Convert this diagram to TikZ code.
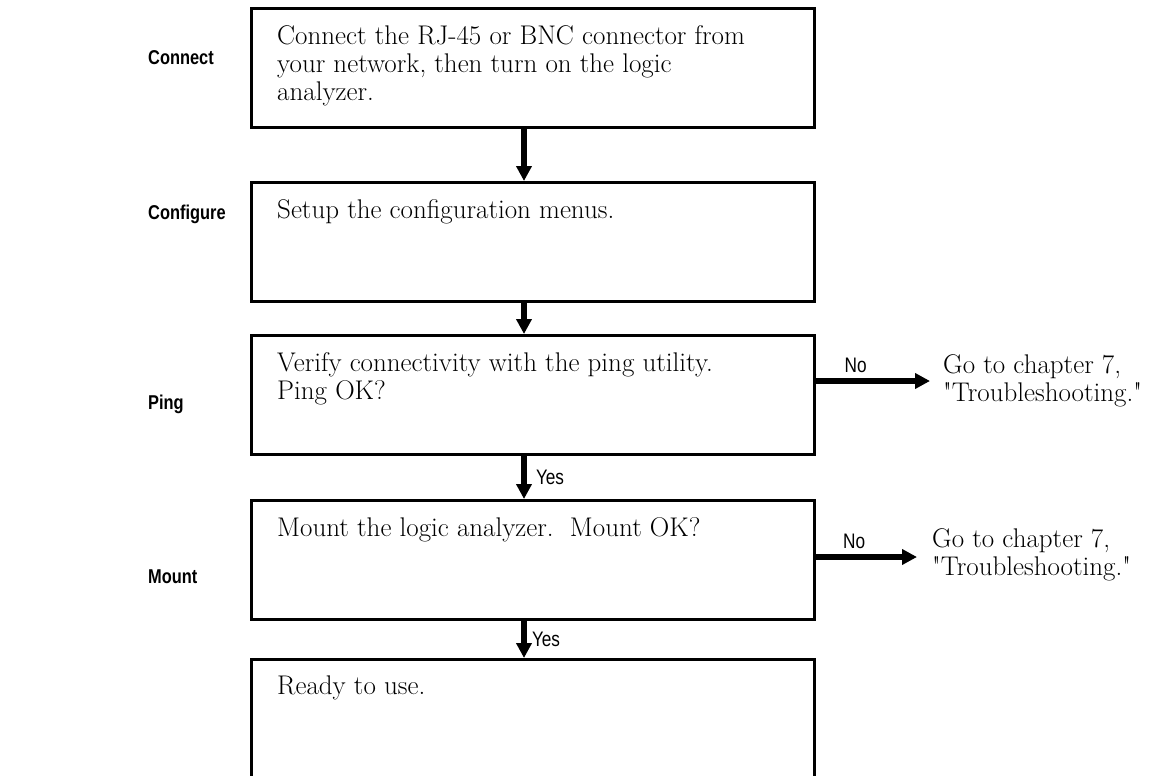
\documentclass[tikz,border=0pt]{standalone}
\usepackage{fontspec}
\usepackage{tikz}
\usetikzlibrary{positioning, arrows.meta}
\newfontfamily\labelfont[FakeStretch=0.82]{Liberation Sans}

\tikzset{
  stepbox/.style={draw, line width=2.6pt, minimum width=563pt, minimum height=119pt,
    anchor=north west, inner sep=0pt},
  steptext/.style={align=left, inner sep=0pt, font=\fontsize{27}{28}\selectfont},
  flowarrow/.style={line width=6pt, -{Triangle[length=15pt, width=15pt]}},
  stagename/.style={anchor=west, inner sep=0pt, font=\labelfont\bfseries\fontsize{20}{24}\selectfont},
  answer/.style={inner sep=0pt, font=\labelfont\fontsize{21}{24}\selectfont},
}

\begin{document}
\begin{tikzpicture}[x=1pt, y=-1pt]
\useasboundingbox (0,0) rectangle (1159,776);

% stage names on the left
\node[stagename] (connectname) at (148,58) {Connect};
\node[stagename] (configname) at (148,214) {Configure};
\node[stagename] (pingname) at (148,404) {Ping};
\node[stagename] (mountname) at (148,577) {Mount};

% the boxes
\node[stepbox] (connect) at (250,7) {};
\node[stepbox] (config) at (250,181) {};
\node[stepbox] (ping) at (250,334) {};
\node[stepbox] (mount) at (250,499) {};
\node[stepbox] (ready) at (250,658) {};

% texts in the boxes
\node[steptext, below right=18pt and 27pt of connect.north west] (connecttxt)
  {Connect the RJ-45 or BNC connector from\\your network, then turn on the logic\\analyzer.};
\node[steptext, below right=18pt and 27pt of config.north west] (configtxt)
  {Setup the configuration menus.};
\node[steptext, below right=18pt and 27pt of ping.north west] (pingtxt)
  {Verify connectivity with the ping utility.\\Ping OK?};
\node[steptext, below right=18pt and 27pt of mount.north west] (mounttxt)
  {Mount the logic analyzer.\ \ Mount OK?};
\node[steptext, below right=18pt and 27pt of ready.north west] (readytxt)
  {Ready to use.};

% notes on the right
\node[steptext, anchor=west] (pingnote) at (943,381)
  {Go to chapter 7,\\\textquotedbl Troubleshooting.\textquotedbl};
\node[steptext, anchor=west] (mountnote) at (932,555)
  {Go to chapter 7,\\\textquotedbl Troubleshooting.\textquotedbl};

% the spine of the flow
\coordinate (spine) at (524,0);

\draw[flowarrow] (connect.south -| spine) -- (config.north -| spine);
\draw[flowarrow] (config.south -| spine) -- (ping.north -| spine);
\draw[flowarrow] (ping.south -| spine) -- (mount.north -| spine)
  node[answer, midway, right=9pt] {Yes};
\draw[flowarrow] (mount.south -| spine) -- (ready.north -| spine)
  node[answer, midway, right=5pt] {Yes};

% failure branches
\draw[flowarrow] (ping.east |- pingnote.west) -- ([xshift=-13pt]pingnote.west)
  node[answer, pos=0.35, above=5pt] {No};
\draw[flowarrow] ([yshift=-2pt]mount.east |- mountnote.west) -- ([xshift=-15pt,yshift=-2pt]mountnote.west)
  node[answer, pos=0.38, above=5pt] {No};
\end{tikzpicture}
\end{document}
